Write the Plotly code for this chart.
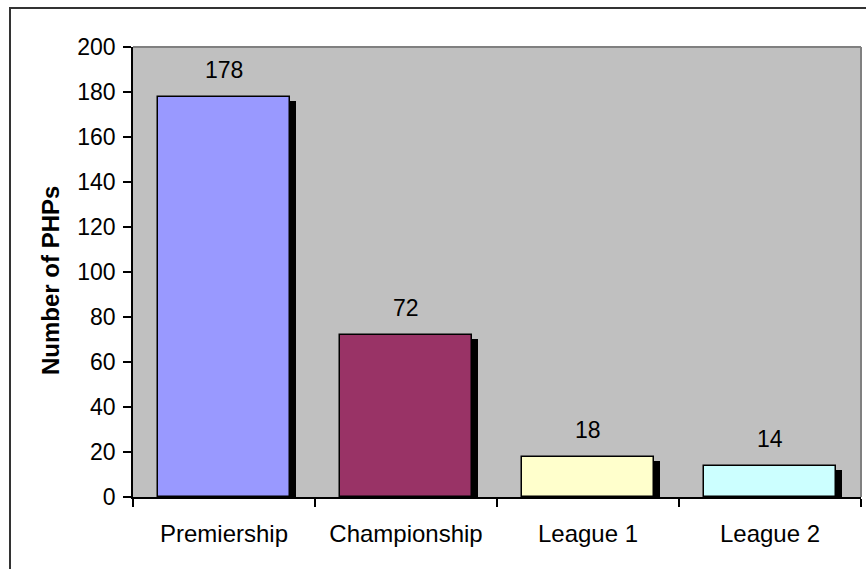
import plotly.graph_objects as go

categories = ["Premiership", "Championship", "League 1", "League 2"]
values = [178, 72, 18, 14]
bar_colors = ["#9999FF", "#993366", "#FFFFCC", "#CCFFFF"]
y_ticks = [0, 20, 40, 60, 80, 100, 120, 140, 160, 180, 200]
y_title = "Number of PHPs"

W, H = 866, 569
L, R, T, B = 133, 861, 47, 497   # plot area pixels
pw, ph = R - L, B - T
ymax = 200
slot_px = pw / len(categories)
bw = 0.72
sh_dx = 6 / slot_px
sh_dy = 4 * ymax / ph

def px(x):
    return (x - L) / pw

def py(y):
    return (B - y) / ph

FONT = "Liberation Sans, Arial, sans-serif"

fig = go.Figure()
fig.add_trace(go.Bar(
    x=categories, y=[v - sh_dy for v in values],
    width=bw, offset=-bw / 2 + sh_dx,
    marker=dict(color="black", line=dict(width=0)),
    hoverinfo="skip", showlegend=False,
))
fig.add_trace(go.Bar(
    x=categories, y=values,
    width=bw, offset=-bw / 2,
    marker=dict(color=bar_colors, line=dict(color="black", width=1.5)),
    showlegend=False,
))

for c, v in zip(categories, values):
    fig.add_annotation(x=c, y=v, text=str(v), showarrow=False,
                       yanchor="middle", yshift=27,
                       font=dict(family=FONT, size=23, color="black"))

fig.add_annotation(xref="paper", yref="paper", x=px(50), y=py(281),
                   text="<b>" + y_title + "</b>", textangle=-90, showarrow=False,
                   xanchor="center", yanchor="middle",
                   font=dict(family=FONT, size=24, color="black"))

shapes = [
    # outer frame
    dict(type="rect", xref="paper", yref="paper",
         x0=px(10), x1=px(W + 5), y0=py(H + 5), y1=py(8),
         line=dict(color="#333333", width=2), layer="below"),
    # plot area top/right border
    dict(type="line", xref="paper", yref="paper", x0=0, x1=1, y0=1, y1=1,
         line=dict(color="#808080", width=2)),
    dict(type="line", xref="paper", yref="paper", x0=1, x1=1, y0=0, y1=1,
         line=dict(color="#808080", width=2)),
]

fig.update_layout(
    width=W, height=H,
    margin=dict(l=L, r=W - R, t=T, b=H - B, pad=0),
    paper_bgcolor="white", plot_bgcolor="#C0C0C0",
    barmode="overlay", bargap=0,
    font=dict(family=FONT, size=23, color="black"),
    shapes=shapes,
    xaxis=dict(type="category", showgrid=False, showline=True, linecolor="black",
               linewidth=1.5, ticks="outside", tickson="boundaries", ticklen=8,
               tickcolor="black", tickwidth=1.5,
               tickfont=dict(family=FONT, size=24, color="black"),
               ticklabelstandoff=14, zeroline=False, fixedrange=True),
    yaxis=dict(range=[0, ymax], tickvals=y_ticks, showgrid=False, showline=True,
               linecolor="black", linewidth=1.5, ticks="outside", ticklen=8,
               tickcolor="black", tickwidth=1.5,
               tickfont=dict(family=FONT, size=23, color="black"),
               ticklabelstandoff=3, zeroline=False, fixedrange=True),
)

fig.write_html("out.html")
